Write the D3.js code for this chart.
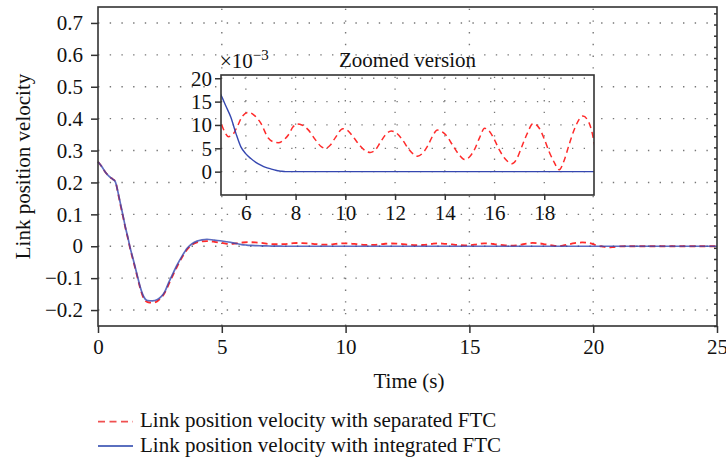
<!DOCTYPE html>
<html>
<head>
<meta charset="utf-8">
<script src="https://cdn.jsdelivr.net/npm/d3@7"></script>
<style>
  body { margin: 0; background: #fff; }
  svg { display: block; font-family: "Liberation Serif", "Times New Roman", serif; }
  svg text { font-family: "Liberation Serif", "Times New Roman", serif; }
</style>
</head>
<body>
<script>
// time samples and velocity values
var blueT = [0, 0.15, 0.3, 0.45, 0.6, 0.7, 0.8, 0.9, 1.0, 1.1, 1.2, 1.3, 1.4, 1.5, 1.6, 1.7, 1.8, 1.9, 2.0, 2.2, 2.4, 2.55, 2.7, 2.85, 3.0, 3.2, 3.4, 3.6, 3.8, 4.0, 4.2, 4.4, 4.7,
	5.0, 5.2, 5.4, 5.6, 5.8, 6.0, 6.2, 6.4, 6.6, 6.8, 7.0, 7.2, 7.4, 7.6, 10, 15, 20, 25];
var blueV = [0.265, 0.25, 0.232, 0.219, 0.21, 0.202, 0.172, 0.136, 0.1, 0.062, 0.03, -0.005, -0.035, -0.065, -0.096, -0.126, -0.15, -0.165, -0.17, -0.171, -0.167, -0.158, -0.142, -0.115, -0.09, -0.058, -0.03, -0.006, 0.008, 0.016, 0.02, 0.022, 0.019,
	0.0164, 0.014, 0.0116, 0.0082, 0.0053, 0.0038, 0.0028, 0.002, 0.0014, 0.0009, 0.0006, 0.0003, 0.00012, 0, 0, 0, 0, 0];

var redT = [0, 0.15, 0.3, 0.45, 0.6, 0.7, 0.8, 0.9, 1.0, 1.1, 1.2, 1.3, 1.4, 1.5, 1.6, 1.7, 1.8, 1.9, 2.0, 2.2, 2.4, 2.55, 2.7, 2.85, 3.0, 3.2, 3.4, 3.6, 3.8, 4.0, 4.2, 4.4, 4.7,
	5.0, 5.15, 5.3, 5.45, 5.65, 5.85, 6.1, 6.35, 6.6, 6.9, 7.1, 7.3, 7.5, 7.7, 7.9, 8.05, 8.25, 8.5, 8.8, 9.0, 9.2, 9.4, 9.6, 9.9,
	10.1, 10.35, 10.6, 10.8, 11.0, 11.2, 11.4, 11.6, 11.85, 12.05, 12.3, 12.55, 12.75, 12.9, 13.1, 13.3, 13.5, 13.7, 13.9,
	14.1, 14.3, 14.55, 14.8, 15.0, 15.2, 15.4, 15.6, 15.8, 16.0, 16.2, 16.45, 16.7, 16.9, 17.1, 17.3, 17.55, 17.8,
	18.0, 18.2, 18.4, 18.6, 18.8, 19.0, 19.25, 19.55, 19.75, 19.9, 20.05, 20.2, 20.4, 20.6, 20.8, 21.0, 21.3, 25];
var redV = [0.265, 0.25, 0.232, 0.219, 0.21, 0.204, 0.17, 0.132, 0.097, 0.06, 0.027, -0.008, -0.038, -0.068, -0.1, -0.13, -0.155, -0.17, -0.175, -0.177, -0.172, -0.162, -0.145, -0.12, -0.095, -0.063, -0.034, -0.01, 0.005, 0.012, 0.015, 0.016, 0.014,
	0.0104, 0.0085, 0.0075, 0.0078, 0.0096, 0.0118, 0.0127, 0.012, 0.0104, 0.0072, 0.0064, 0.0062, 0.0067, 0.0078, 0.0096, 0.0102, 0.01, 0.009, 0.0068, 0.0055, 0.005, 0.0057, 0.0073, 0.0092,
	0.0088, 0.0072, 0.0055, 0.0045, 0.0041, 0.0046, 0.0062, 0.0078, 0.0087, 0.0083, 0.0068, 0.0048, 0.0037, 0.0033, 0.0039, 0.0054, 0.0075, 0.0089, 0.0085,
	0.0075, 0.0058, 0.0038, 0.0026, 0.0032, 0.0048, 0.0073, 0.0093, 0.0086, 0.0068, 0.0046, 0.0026, 0.0017, 0.0028, 0.0054, 0.008, 0.0103, 0.0093,
	0.007, 0.0042, 0.002, 0.0004, 0.0024, 0.0058, 0.0096, 0.0119, 0.011, 0.0089, 0.005, 0.0015, -0.001, -0.0035, -0.0025, -0.0008, 0, 0];

var xTicks = [0, 5, 10, 15, 20, 25];
var yTicks = [-0.2, -0.1, 0, 0.1, 0.2, 0.3, 0.4, 0.5, 0.6, 0.7];
var insetXTicks = [6, 8, 10, 12, 14, 16, 18];
var insetYTicks = [0, 5, 10, 15, 20];
var legendLabels = ['Link position velocity with separated FTC', 'Link position velocity with integrated FTC'];

var width = 726, height = 457;
var serif = '"Liberation Serif", "Times New Roman", serif';
var red = '#ff2b2b', blue = '#3547b0', axisColor = '#333', gridColor = '#777';

var svg = d3.select('body').append('svg')
	.attr('width', width)
	.attr('height', height);

var x = d3.scaleLinear().domain([0, 25]).range([98, 717]);
var y = d3.scaleLinear().domain([-0.25, 0.75]).range([326, 7]);

var blueData = blueT.map(function(t, i){ return [t, blueV[i]]; });
var redData = redT.map(function(t, i){ return [t, redV[i]]; });

// main grid
var grid = svg.append('g').attr('stroke', gridColor).attr('stroke-width', 1.4).attr('stroke-dasharray', '1.4,10.3');
grid.selectAll('.gx').data(xTicks.slice(1, -1)).enter().append('line')
	.attr('x1', function(d){ return x(d); }).attr('x2', function(d){ return x(d); })
	.attr('y1', y.range()[0]).attr('y2', y.range()[1]);
grid.selectAll('.gy').data(yTicks).enter().append('line')
	.attr('y1', function(d){ return y(d); }).attr('y2', function(d){ return y(d); })
	.attr('x1', x.range()[0]).attr('x2', x.range()[1]);

// main curves
var line = d3.line().curve(d3.curveMonotoneX).x(function(d){ return x(d[0]); }).y(function(d){ return y(d[1]); });
svg.append('path').datum(redData).attr('d', line)
	.attr('fill', 'none').attr('stroke', red).attr('stroke-width', 1.8).attr('stroke-dasharray', '6,4');
svg.append('path').datum(blueData).attr('d', line)
	.attr('fill', 'none').attr('stroke', blue).attr('stroke-width', 1.7).attr('stroke-opacity', 0.8);

// axes
function styleAxis(g, size){
	g.attr('font-family', serif).attr('font-size', size);
	g.select('.domain').remove();
	g.selectAll('.tick line').attr('stroke', axisColor).attr('stroke-width', 1.5);
	g.selectAll('.tick text').attr('fill', '#111')
		.style('font-family', serif).style('font-size', size + 'px');
}
var fmt = function(d){ return Math.abs(d) < 1e-9 ? '0' : d3.format('.1f')(d).replace('-', '\u2212'); };
svg.append('g').attr('transform', 'translate(0,' + y.range()[0] + ')')
	.call(d3.axisBottom(x).tickValues(xTicks).tickSize(7).tickPadding(6).tickFormat(d3.format('d')))
	.call(styleAxis, 21);
svg.append('g').attr('transform', 'translate(' + x.range()[0] + ',0)')
	.call(d3.axisLeft(y).tickValues(yTicks).tickSize(7).tickPadding(8).tickFormat(fmt))
	.call(styleAxis, 21);
// small ticks on the right border
svg.append('g').attr('transform', 'translate(' + x.range()[1] + ',0)')
	.call(d3.axisLeft(y).tickValues(d3.range(-0.25, 0.75, 0.035)).tickSize(3).tickFormat(''))
	.call(styleAxis, 1);

svg.append('rect')
	.attr('x', x.range()[0]).attr('y', y.range()[1])
	.attr('width', x.range()[1] - x.range()[0]).attr('height', y.range()[0] - y.range()[1])
	.attr('fill', 'none').attr('stroke', axisColor).attr('stroke-width', 1.6);

svg.append('text').attr('x', 409).attr('y', 388).attr('text-anchor', 'middle')
	.style('font-size', '21px').attr('fill', '#111').text('Time (s)');
svg.append('text').attr('transform', 'translate(30,' + ((y.range()[0] + y.range()[1]) / 2) + ') rotate(-90)').attr('text-anchor', 'middle')
	.style('font-size', '21px').attr('fill', '#111').text('Link position velocity');

// inset
var ix = d3.scaleLinear().domain([5, 20]).range([221, 594]);
var iy = d3.scaleLinear().domain([-5, 20.7]).range([195, 75]);
var inset = svg.append('g');
inset.append('rect').attr('x', ix.range()[0]).attr('y', iy.range()[1])
	.attr('width', ix.range()[1] - ix.range()[0]).attr('height', iy.range()[0] - iy.range()[1])
	.attr('fill', '#fff');
var igrid = inset.append('g').attr('stroke', gridColor).attr('stroke-width', 1.3).attr('stroke-dasharray', '1.3,10.4');
igrid.selectAll('.gx').data(insetXTicks).enter().append('line')
	.attr('x1', function(d){ return ix(d); }).attr('x2', function(d){ return ix(d); })
	.attr('y1', iy.range()[0]).attr('y2', iy.range()[1]);
igrid.selectAll('.gy').data(insetYTicks).enter().append('line')
	.attr('y1', function(d){ return iy(d); }).attr('y2', function(d){ return iy(d); })
	.attr('x1', ix.range()[0]).attr('x2', ix.range()[1]);

inset.append('clipPath').attr('id', 'insetClip').append('rect')
	.attr('x', ix.range()[0]).attr('y', iy.range()[1])
	.attr('width', ix.range()[1] - ix.range()[0]).attr('height', iy.range()[0] - iy.range()[1]);
var iline = d3.line().curve(d3.curveMonotoneX).x(function(d){ return ix(d[0]); }).y(function(d){ return iy(d[1] * 1000); });
var curves = inset.append('g').attr('clip-path', 'url(#insetClip)');
curves.append('path').datum(redData.filter(function(d){ return d[0] >= 4.7 && d[0] <= 21; })).attr('d', iline)
	.attr('fill', 'none').attr('stroke', red).attr('stroke-width', 1.5).attr('stroke-dasharray', '6,4');
curves.append('path').datum(blueData.filter(function(d){ return d[0] >= 4.7; })).attr('d', iline)
	.attr('fill', 'none').attr('stroke', blue).attr('stroke-width', 1.4);

inset.append('g').attr('transform', 'translate(0,' + iy.range()[0] + ')')
	.call(d3.axisBottom(ix).tickValues(insetXTicks).tickSize(5).tickPadding(5).tickFormat(d3.format('d')))
	.call(styleAxis, 21);
inset.append('g').attr('transform', 'translate(' + ix.range()[0] + ',0)')
	.call(d3.axisLeft(iy).tickValues(insetYTicks).tickSize(6).tickPadding(3).tickFormat(d3.format('d')))
	.call(styleAxis, 21);
inset.append('rect').attr('x', ix.range()[0]).attr('y', iy.range()[1])
	.attr('width', ix.range()[1] - ix.range()[0]).attr('height', iy.range()[0] - iy.range()[1])
	.attr('fill', 'none').attr('stroke', axisColor).attr('stroke-width', 1.6);

var sci = inset.append('text').attr('x', 220).attr('y', 68).style('font-size', '21px').attr('fill', '#111');
sci.append('tspan').text('\u00d710');
sci.append('tspan').attr('dy', -8).style('font-size', '15px').text('\u22123');
inset.append('text').attr('x', (ix.range()[0] + ix.range()[1]) / 2).attr('y', 67).attr('text-anchor', 'middle')
	.style('font-size', '21px').attr('fill', '#111').text('Zoomed version');

// legend
var legend = svg.append('g').attr('transform', 'translate(98,0)');
var legRows = legend.selectAll('g').data(legendLabels).enter().append('g')
	.attr('transform', function(d, i){ return 'translate(0,' + (421.7 + i * 24.3) + ')'; });
legRows.append('line').attr('x1', 0).attr('x2', 35)
	.attr('stroke', function(d, i){ return i === 0 ? '#f05050' : '#5a6fbf'; })
	.attr('stroke-width', 1.8)
	.attr('stroke-dasharray', function(d, i){ return i === 0 ? '7,4.5' : null; });
legRows.append('text').attr('x', 42).attr('y', 5.5).style('font-size', '21px').attr('fill', '#111')
	.text(function(d){ return d; });
</script>
</body>
</html>
